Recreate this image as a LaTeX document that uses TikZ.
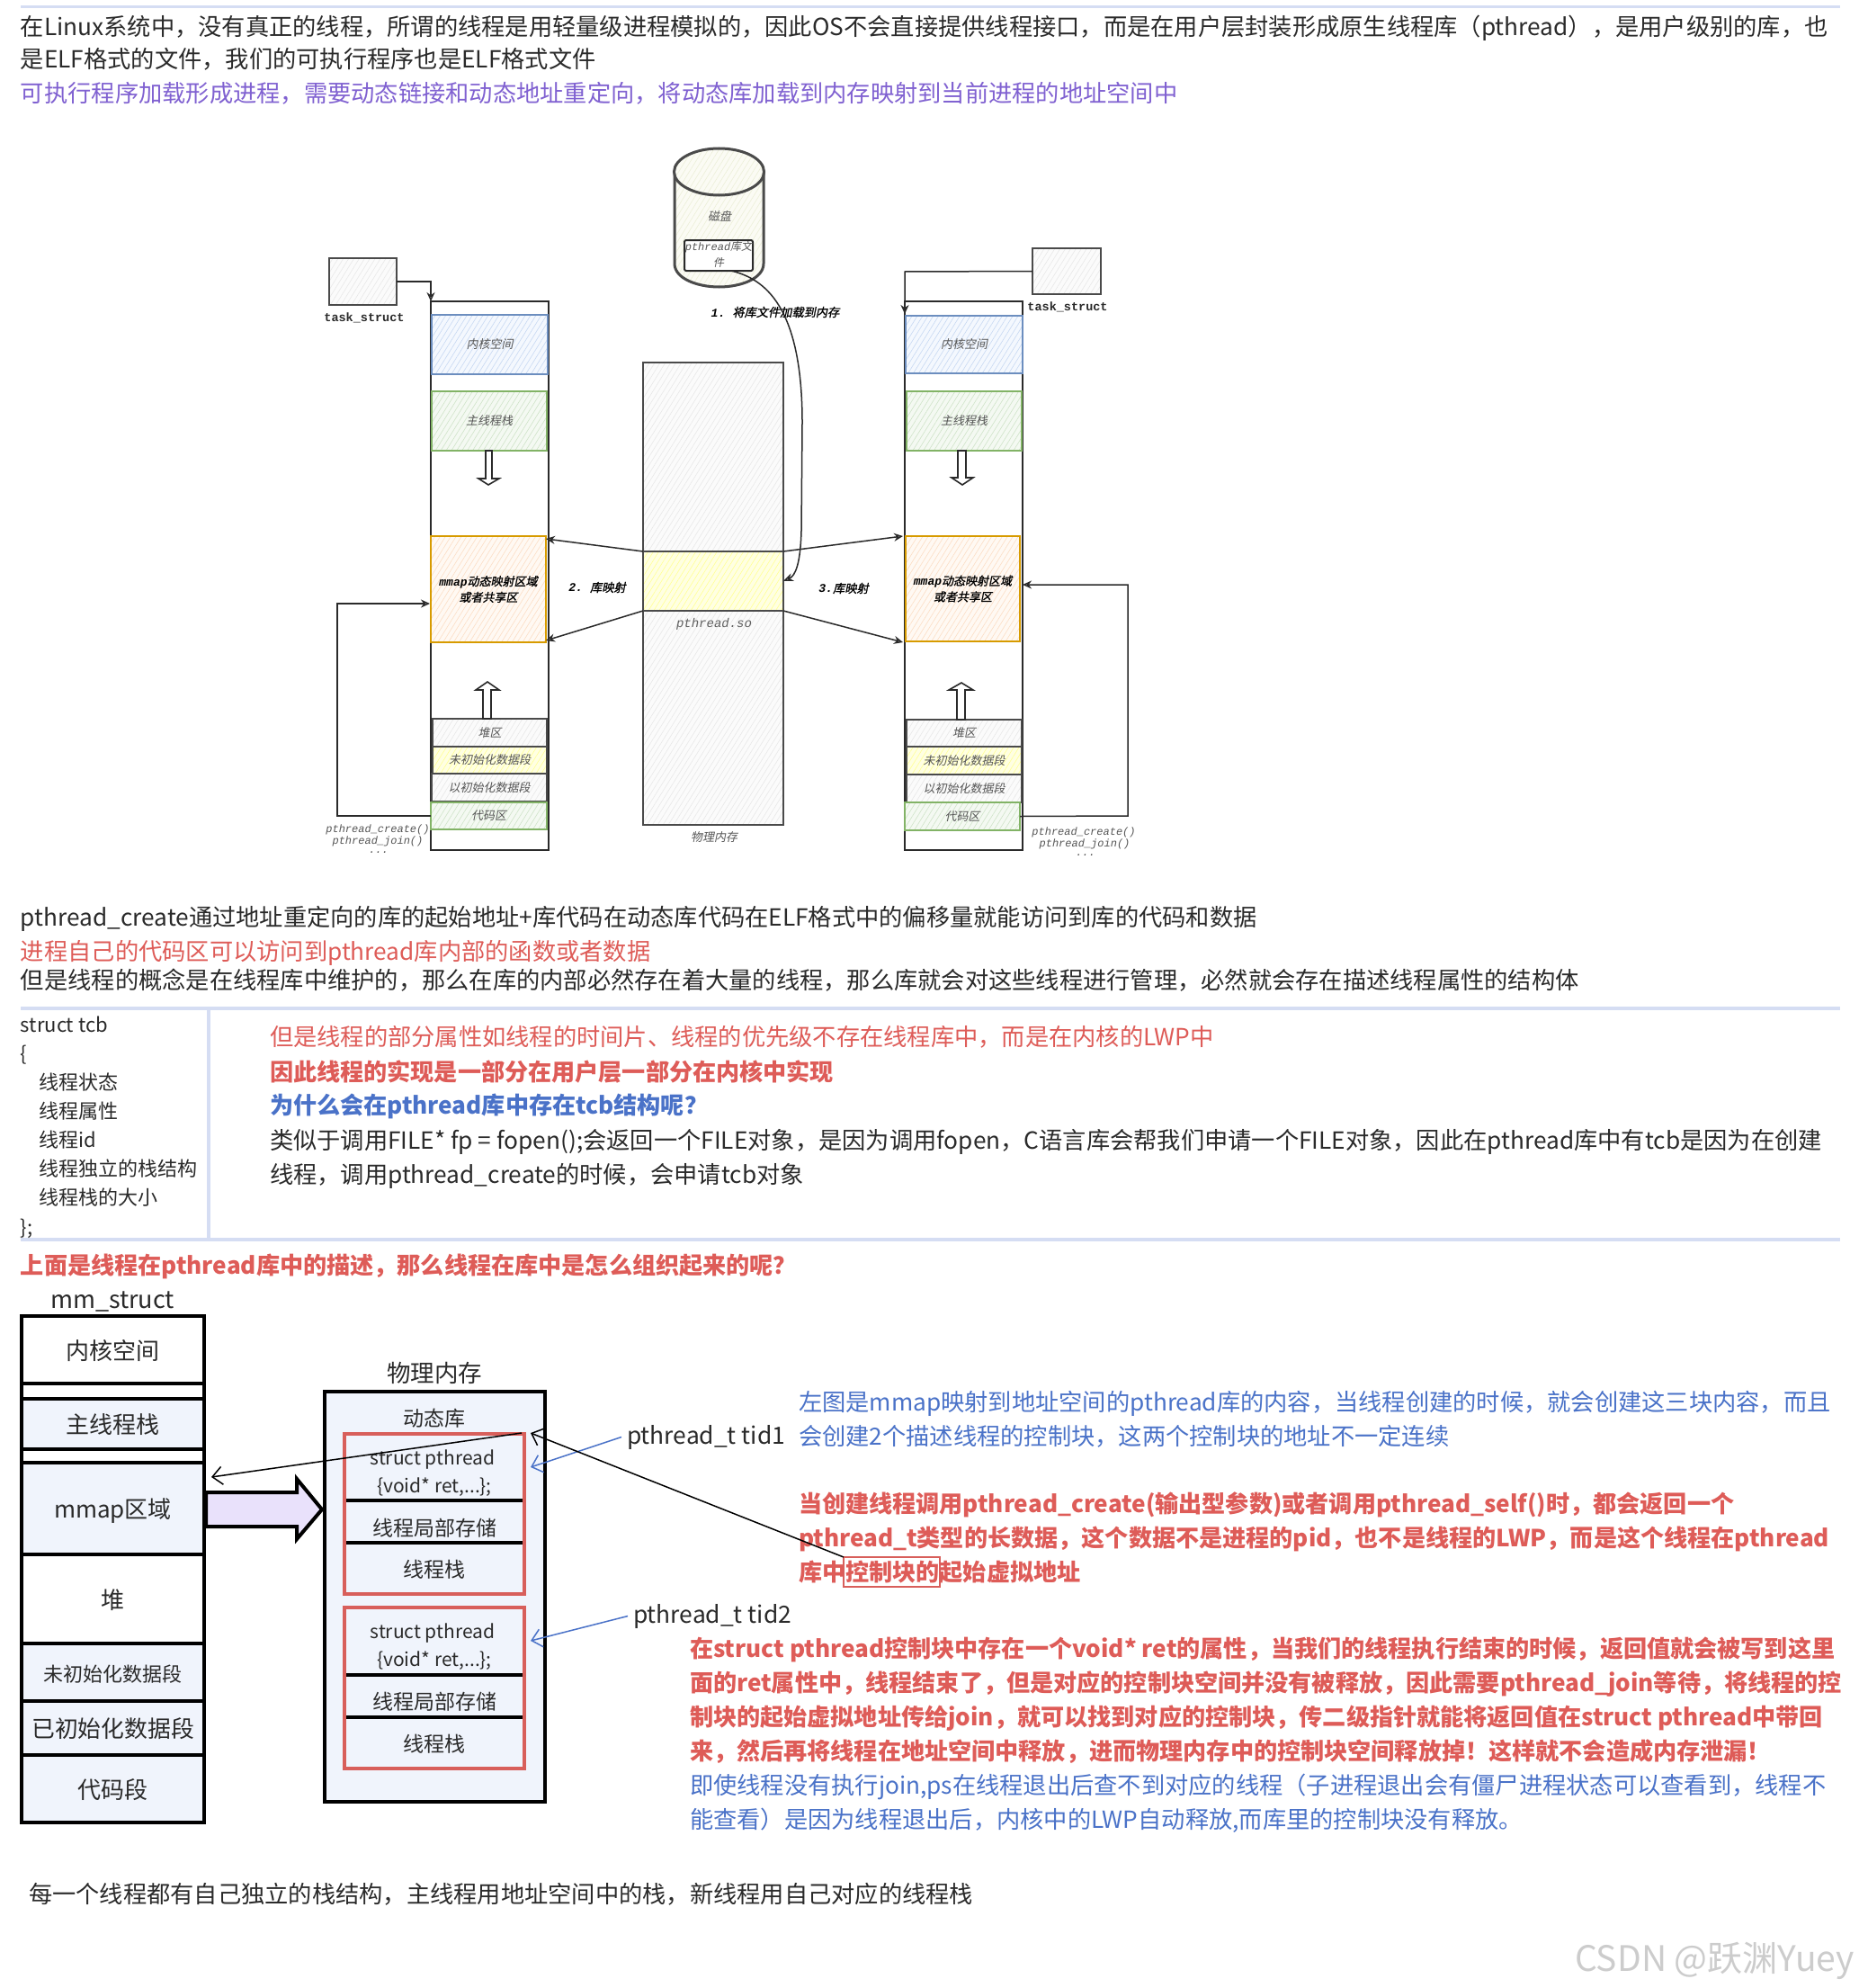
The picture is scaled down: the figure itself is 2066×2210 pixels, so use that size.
\documentclass[tikz,border=0pt]{standalone}
\usepackage{fontspec}
\usetikzlibrary{arrows.meta,patterns.meta,calc}
\setmainfont{Noto Sans CJK SC}
\newfontfamily\skit[FakeSlant=0.2]{Noto Sans CJK SC}
\newfontfamily\skbd[FakeSlant=0.2,FakeBold=1.2]{Noto Sans CJK SC}
\newfontfamily\mnit{Liberation Mono}[ItalicFont={* Italic},BoldFont={* Bold}]
\newcommand\fs[1]{\fontsize{#1pt}{#1pt}\selectfont}
\newcommand\tbold{\bfseries\fs{26.13}}
\definecolor{tred}{HTML}{DE5C58}
\definecolor{tblue}{HTML}{4A72C8}
\definecolor{tpur}{HTML}{8061D1}
\definecolor{tblk}{HTML}{2A2A2A}
\definecolor{rule}{HTML}{D5DDF3}
\definecolor{pale}{HTML}{F0F4FC}
\definecolor{rbox}{HTML}{D85F5B}
\definecolor{lilac}{HTML}{E9E1FB}
\definecolor{blu}{HTML}{6C8EBF}\definecolor{blubg}{HTML}{F4F8FE}\definecolor{blul}{HTML}{C6D8F2}
\definecolor{grn}{HTML}{82B366}\definecolor{grnbg}{HTML}{F4F9F2}\definecolor{grnl}{HTML}{CFE3C8}
\definecolor{org}{HTML}{D79B00}\definecolor{orgbg}{HTML}{FFF9F3}\definecolor{orgl}{HTML}{FCDDC4}
\definecolor{ylwbg}{HTML}{FFFFE2}\definecolor{ylwl}{HTML}{FFFF94}
\definecolor{gry}{HTML}{4A4A4A}\definecolor{grybg}{HTML}{FBFBFB}\definecolor{gryl}{HTML}{E8E8E8}
\definecolor{dskbg}{HTML}{FBFBF4}\definecolor{dskl}{HTML}{ECEFD8}
\tikzset{
  tl/.style={anchor=base west,inner sep=0pt,outer sep=0pt,font=\fs{26.25},text=tblk,yshift=-1pt},
  lbl/.style={inner sep=0pt,outer sep=0pt,font=\skit\fs{13},text=tblk!80},
  code/.style={inner sep=0pt,outer sep=0pt,font=\mnit\itshape\fs{12},text=tblk!80},
  sk/.style n args={3}{draw=#1,line width=1.5pt,preaction={fill=#2},
     pattern={Lines[angle=58,distance=5pt,line width=0.6pt]},pattern color=#3},
  bluebox/.style={sk={blu}{blubg}{blul},text=tblk!80},
  greenbox/.style={sk={grn}{grnbg}{grnl},text=tblk!80},
  orangebox/.style={sk={org}{orgbg}{orgl}},
  yellowbox/.style={sk={gry}{ylwbg}{ylwl},text=tblk!80},
  graybox/.style={sk={gry}{grybg}{gryl},text=tblk!80},
  stackbox/.style={draw=tblk,line width=2pt,fill=white},
  conn/.style={draw=tblk,line width=1.5pt,-{Stealth[open,length=10pt,width=9pt]}},
  plain/.style={draw=tblk,line width=1.5pt},
  hollow/.style={draw=tblk,line width=1.6pt,fill=white},
  seg/.style={draw=black,line width=4pt,font=\fs{26},text=tblk,text height=23pt,text depth=2pt},
  pseg/.style={seg,fill=pale},
  wseg/.style={seg,fill=white},
  rsep/.style={draw=black,line width=4pt},
  bt/.style={draw=black,line width=1.5pt,-{Straight Barb[length=11pt,width=20pt]}},
  blt/.style={draw=tblue,line width=1.5pt,-{Straight Barb[length=11pt,width=20pt]}},
  note/.style={inner sep=0pt,outer sep=0pt,font=\fs{23},text=tblk}
}
\newcommand\bx[7]{\pgfmathsetmacro\cxx{(#2+#4)/2}\pgfmathsetmacro\cyy{(#3+#5)/2}%
  \pgfmathsetmacro\wdd{abs(#4-#2)}\pgfmathsetmacro\htt{abs(#5-#3)}%
  \node[#6,minimum width=\wdd pt,minimum height=\htt pt,inner sep=0pt,outer sep=0pt,align=center] (#1) at (\cxx,\cyy) {#7};}
\begin{document}
\begin{tikzpicture}[x=1pt,y=-1pt]
\useasboundingbox (0,0) rectangle (2066,2210);
\fill[white] (0,0) rectangle (2066,2210);

% --- top text
\coordinate (r0a) at (23,8); \coordinate (r0b) at (2046,8);
\draw[rule,line width=3pt] (r0a) -- (r0b);
\node[tl] (t1) at (23,39) {在Linux系统中，没有真正的线程，所谓的线程是用轻量级进程模拟的，因此OS不会直接提供线程接口，而是在用户层封装形成原生线程库（pthread），是用户级别的库，也};
\node[tl] (t2) at (23,75) {是ELF格式的文件，我们的可执行程序也是ELF格式文件};
\node[tl,text=tpur] (t3) at (23,113) {可执行程序加载形成进程，需要动态链接和动态地址重定向，将动态库加载到内存映射到当前进程的地址空间中};

% --- sketch: disk
\draw[gry,line width=3pt,preaction={fill=dskbg},pattern={Lines[angle=58,distance=5pt,line width=0.6pt]},pattern color=dskl]
  (750,191) -- (750,293) .. controls (750,310) and (776,319) .. (799.5,319) .. controls (823,319) and (849,310) .. (849,293) -- (849,191) -- cycle;
\draw[gry,line width=3pt,preaction={fill=dskbg},pattern={Lines[angle=58,distance=5pt,line width=0.6pt]},pattern color=dskl]
  (799.5,191) ellipse [x radius=50,y radius=26];
\node[lbl] (disk) at (800,240) {磁盘};
\bx{file}{761}{267}{837}{301}{draw=tblk,line width=2pt,fill=white,rounded corners=2pt}{}
\node[lbl,font=\skit\fs{12}] (filet) at (799,275) {{\mnit\itshape pthread}库文};
\node[lbl,font=\skit\fs{12}] (filec) at (799,292) {件};

% --- task boxes
\bx{taskL}{366}{287}{441}{339}{graybox}{}
\node[inner sep=0pt,font=\mnit\bfseries\fs{13.5},text=tblk] (taskLt) at (405,353) {task\_struct};
\bx{taskR}{1148}{276}{1224}{327}{graybox}{}
\node[inner sep=0pt,font=\mnit\bfseries\fs{13.5},text=tblk] (taskRt) at (1187,341) {task\_struct};

% --- left stack
\bx{stackL}{479}{335}{610}{945}{stackbox}{}
\bx{kL}{480}{350}{609}{416}{bluebox,font=\skit\fs{13}}{内核空间}
\bx{mL}{480}{435}{608}{501}{greenbox,font=\skit\fs{13}}{主线程栈}
\bx{oL}{479}{596}{607}{714}{orangebox,font=\skbd\fs{13}}{{\mnit\itshape\bfseries mmap}动态映射区域\\[3pt]或者共享区}
\bx{hL}{481}{799}{608}{830}{graybox,font=\skit\fs{13}}{堆区}
\bx{uL}{481}{830}{608}{860}{yellowbox,font=\skit\fs{13}}{未初始化数据段}
\bx{iL}{480}{860}{608}{891}{graybox,font=\skit\fs{13}}{以初始化数据段}
\bx{cL}{479}{892}{608}{922}{greenbox,font=\skit\fs{13}}{代码区}
\draw[hollow] (540,501) -- (547,501) -- (547,532) -- (555,532) -- (543,539) -- (532,532) -- (540,532) -- cycle;
\draw[hollow] (537,799) -- (546,799) -- (546,767) -- (555,767) -- (542,758) -- (529,767) -- (537,767) -- cycle;

% --- right stack
\bx{stackR}{1006}{335}{1137}{945}{stackbox}{}
\bx{kR}{1007}{351}{1137}{415}{bluebox,font=\skit\fs{13}}{内核空间}
\bx{mR}{1008}{435}{1136}{501}{greenbox,font=\skit\fs{13}}{主线程栈}
\bx{oR}{1007}{596}{1134}{713}{orangebox,font=\skbd\fs{13}}{{\mnit\itshape\bfseries mmap}动态映射区域\\[3pt]或者共享区}
\bx{hR}{1008}{800}{1136}{830}{graybox,font=\skit\fs{13}}{堆区}
\bx{uR}{1008}{830}{1136}{861}{yellowbox,font=\skit\fs{13}}{未初始化数据段}
\bx{iR}{1008}{861}{1136}{892}{graybox,font=\skit\fs{13}}{以初始化数据段}
\bx{cR}{1006}{892}{1134}{923}{greenbox,font=\skit\fs{13}}{代码区}
\draw[hollow] (1065,501) -- (1074,501) -- (1074,531) -- (1082,531) -- (1070,539) -- (1058,531) -- (1065,531) -- cycle;
\draw[hollow] (1064,800) -- (1073,800) -- (1073,767) -- (1082,767) -- (1069,759) -- (1055,767) -- (1064,767) -- cycle;

% --- physical memory
\bx{phys}{715}{403}{871}{917}{graybox}{}
\bx{so}{715}{613}{871}{679}{yellowbox}{}
\node[code,font=\mnit\itshape\fs{14},text=tblk!75] (sot) at (794,694) {pthread.so};
\node[lbl] (physt) at (794,931) {物理内存};

% --- sketch connectors
\draw[conn] (taskL.east) -- (479,313) -- (stackL.north west);
\coordinate (rTip) at (1006,349);
\draw[conn] (taskR.west) -- (1006,302) -- (rTip);
\draw[plain,-{Stealth[open,length=11pt,width=9pt]}] ([xshift=14pt]file.south)
   .. controls (850,310) and (892,340) .. (892,470) -- (891,590)
   .. controls (890,625) and (885,640) .. (so.east);
\draw[conn] (so.north west) -- ([yshift=-3pt]oL.north east);
\draw[conn] (so.south west) -- ([yshift=2pt]oL.south east);
\draw[conn] (so.north east) -- ([xshift=-3pt]oR.north west);
\draw[conn] (so.south east) -- ([xshift=-3pt,yshift=-1pt]oR.south west);
\coordinate (hookL) at (375,907);
\coordinate (tipL) at (478,671);
\draw[conn] (cL.west) -- (hookL) -- (375,671) -- (tipL);
\coordinate (hookR) at (1254,907);
\draw[conn] (cR.east) -- (hookR) -- (1254,650) -- (1137,650);

\node[inner sep=0pt,font=\skbd\fs{13.2},text=black] (l1) at (862,347) {{\mnit\itshape\bfseries 1.\ }将库文件加载到内存};
\node[inner sep=0pt,font=\skbd\fs{13.2},text=black] (l2) at (664,653) {{\mnit\itshape\bfseries 2.\ }库映射};
\node[inner sep=0pt,font=\skbd\fs{13.2},text=black] (l3) at (938,654) {{\mnit\itshape\bfseries 3.}库映射};
\node[code] (pc1) at (420,922) {pthread\_create()};
\node[code] (pj1) at (420,935) {pthread\_join()};
\node[code] (pd1) at (421,948) {...};
\node[code] (pc2) at (1205,925) {pthread\_create()};
\node[code] (pj2) at (1206,938) {pthread\_join()};
\node[code] (pd2) at (1207,951) {...};

% --- middle text
\node[tl] (t4) at (23,1028) {pthread\_create通过地址重定向的库的起始地址+库代码在动态库代码在ELF格式中的偏移量就能访问到库的代码和数据};
\node[tl,text=tred] (t5) at (23,1066) {进程自己的代码区可以访问到pthread库内部的函数或者数据};
\node[tl] (t6) at (23,1098) {但是线程的概念是在线程库中维护的，那么在库的内部必然存在着大量的线程，那么库就会对这些线程进行管理，必然就会存在描述线程属性的结构体};

\coordinate (r1a) at (23,1121); \coordinate (r1b) at (2046,1121);
\coordinate (r2a) at (23,1378); \coordinate (r2b) at (2046,1378);
\coordinate (r3a) at (232,1121); \coordinate (r3b) at (232,1378);
\draw[rule,line width=3.5pt] (r1a) -- (r1b);
\draw[rule,line width=3.5pt] (r2a) -- (r2b);
\draw[rule,line width=3.5pt] (r3a) -- (r3b);

\node[tl,font=\fs{22}] (c1) at (23,1146) {struct tcb};
\node[tl,font=\fs{22}] (c2) at (23,1178) {\{};
\node[tl,font=\fs{22}] (c3) at (43,1210) {线程状态};
\node[tl,font=\fs{22}] (c4) at (43,1242) {线程属性};
\node[tl,font=\fs{22}] (c5) at (43,1274) {线程id};
\node[tl,font=\fs{22}] (c6) at (43,1306) {线程独立的栈结构};
\node[tl,font=\fs{22}] (c7) at (43,1338) {线程栈的大小};
\node[tl,font=\fs{22}] (c8) at (23,1371) {\};};

\node[tl,text=tred] (d1) at (300,1161) {但是线程的部分属性如线程的时间片、线程的优先级不存在线程库中，而是在内核的LWP中};
\node[tl,text=tred,font=\tbold] (d2) at (300,1200) {因此线程的实现是一部分在用户层一部分在内核中实现};
\node[tl,text=tblue,font=\tbold] (d3) at (300,1237) {为什么会在pthread库中存在tcb结构呢？};
\node[tl] (d4) at (300,1276) {类似于调用FILE* fp = fopen();会返回一个FILE对象，是因为调用fopen，C语言库会帮我们申请一个FILE对象，因此在pthread库中有tcb是因为在创建};
\node[tl] (d5) at (300,1314) {线程，调用pthread\_create的时候，会申请tcb对象};
\node[tl,text=tred,font=\tbold] (e1) at (23,1415) {上面是线程在pthread库中的描述，那么线程在库中是怎么组织起来的呢？};

% --- bottom-left: address space
\node[note,font=\fs{27}] (mm) at (125,1447) {mm\_struct};
\bx{s1}{24}{1463}{227}{1538}{wseg}{内核空间}
\bx{s1b}{24}{1538}{227}{1555}{wseg,text height=0pt,text depth=0pt}{}
\bx{s2}{24}{1555}{227}{1611}{pseg}{主线程栈}
\bx{s2b}{24}{1611}{227}{1626}{wseg,text height=0pt,text depth=0pt}{}
\bx{s3}{24}{1626}{227}{1728}{pseg}{mmap区域}
\bx{s4}{24}{1728}{227}{1827}{wseg}{堆}
\bx{s5}{24}{1827}{227}{1891}{pseg,font=\fs{22}}{未初始化数据段}
\bx{s6}{24}{1891}{227}{1951}{pseg,font=\fs{25.8}}{已初始化数据段}
\bx{s7}{24}{1951}{227}{2026}{pseg}{代码段}

% --- bottom: physical memory
\node[note,font=\fs{26.5}] (pm) at (483,1526) {物理内存};
\bx{pb}{361}{1547}{606}{2003}{draw=black,line width=4pt,fill=pale}{}
\node[note] (dyn) at (483,1577) {动态库};
\bx{r1}{383}{1594}{583}{1772}{draw=rbox,line width=3.5pt}{}
\node[note,font=\fs{21}] (r1t1) at (481,1623) {struct pthread};
\node[note,font=\fs{21}] (r1t2) at (483,1653) {\{void* ret,...\};};
\node[note] (r1t3) at (483,1699) {线程局部存储};
\node[note] (r1t4) at (483,1745) {线程栈};
\coordinate (q1a) at (385,1668); \coordinate (q1b) at (581,1668);
\coordinate (q2a) at (385,1715); \coordinate (q2b) at (581,1715);
\draw[rsep] (q1a) -- (q1b); \draw[rsep] (q2a) -- (q2b);
\bx{r2}{383}{1787}{583}{1966}{draw=rbox,line width=3.5pt}{}
\node[note,font=\fs{21}] (r2t1) at (481,1816) {struct pthread};
\node[note,font=\fs{21}] (r2t2) at (483,1846) {\{void* ret,...\};};
\node[note] (r2t3) at (483,1892) {线程局部存储};
\node[note] (r2t4) at (483,1939) {线程栈};
\coordinate (q3a) at (385,1862); \coordinate (q3b) at (581,1862);
\coordinate (q4a) at (385,1909); \coordinate (q4b) at (581,1909);
\draw[rsep] (q3a) -- (q3b); \draw[rsep] (q4a) -- (q4b);

% --- big arrow
\draw[line width=4pt,draw=black,fill=lilac,miter limit=6] (229,1659) -- (330,1659) -- (330,1644) -- (358,1678) -- (330,1711) -- (330,1697) -- (229,1697) -- cycle;

% --- labels
\node[note,anchor=base west,font=\fs{26.4}] (tid1) at (697,1605) {pthread\_t tid1};
\node[note,anchor=base west,font=\fs{26.4}] (tid2) at (704,1804) {pthread\_t tid2};
\coordinate (b1) at (590,1631); \coordinate (b2) at (590,1824);
\draw[blt] ([xshift=-6pt]tid1.west) -- (b1);
\draw[blt] ([xshift=-6pt]tid2.west) -- (b2);

% --- right text
\node[tl,text=tblue] (g1) at (888,1567) {左图是mmap映射到地址空间的pthread库的内容，当线程创建的时候，就会创建这三块内容，而且};
\node[tl,text=tblue] (g2) at (888,1605) {会创建2个描述线程的控制块，这两个控制块的地址不一定连续};
\node[tl,text=tred,font=\tbold] (g3) at (888,1680) {当创建线程调用pthread\_create(输出型参数)或者调用pthread\_self()时，都会返回一个};
\node[tl,text=tred,font=\tbold] (g4) at (888,1718) {pthread\_t类型的长数据，这个数据不是进程的pid，也不是线程的LWP，而是这个线程在pthread};
\node[tl,text=tred,font=\tbold] (g5) at (888,1756) {库中控制块的起始虚拟地址};
\bx{ctl}{938}{1731}{1045}{1764}{draw=rbox,line width=1.5pt}{}
\coordinate (k1) at (590,1593);
\coordinate (k2) at (235,1642);
\coordinate (k0) at (580,1593);
\draw[bt] (ctl.north west) -- (k1);
\draw[bt] (k0) -- (k2);

\node[tl,text=tred,font=\tbold] (h1) at (767,1841) {在struct pthread控制块中存在一个void* ret的属性，当我们的线程执行结束的时候，返回值就会被写到这里};
\node[tl,text=tred,font=\tbold] (h2) at (767,1879) {面的ret属性中，线程结束了，但是对应的控制块空间并没有被释放，因此需要pthread\_join等待，将线程的控};
\node[tl,text=tred,font=\tbold] (h3) at (767,1917) {制块的起始虚拟地址传给join，就可以找到对应的控制块，传二级指针就能将返回值在struct pthread中带回};
\node[tl,text=tred,font=\tbold] (h4) at (767,1955) {来，然后再将线程在地址空间中释放，进而物理内存中的控制块空间释放掉！这样就不会造成内存泄漏！};
\node[tl,text=tblue] (h5) at (767,1993) {即使线程没有执行join,ps在线程退出后查不到对应的线程（子进程退出会有僵尸进程状态可以查看到，线程不};
\node[tl,text=tblue] (h6) at (767,2031) {能查看）是因为线程退出后，内核中的LWP自动释放,而库里的控制块没有释放。};
\node[tl] (last) at (32,2114) {每一个线程都有自己独立的栈结构，主线程用地址空间中的栈，新线程用自己对应的线程栈};
\node[anchor=base east,inner sep=0pt,font=\fs{39},text=black!20] (wm) at (2062,2191) {CSDN @跃渊Yuey};
\end{tikzpicture}
\end{document}
